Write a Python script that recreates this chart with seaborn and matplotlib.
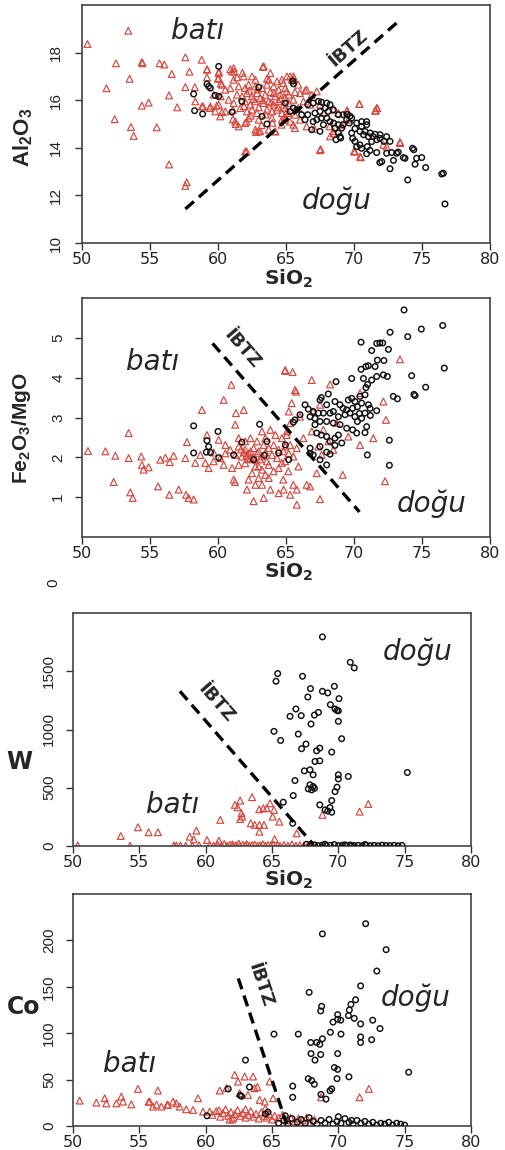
import numpy as np
import pandas as pd
import matplotlib
matplotlib.use("Agg")
import matplotlib.pyplot as plt
import seaborn as sns

sns.set_theme(style="white")
plt.rcParams["font.family"] = ["DejaVu Sans"]
plt.rcParams["mathtext.fontset"] = "custom"
plt.rcParams["mathtext.rm"] = "Liberation Sans"
plt.rcParams["mathtext.bf"] = "Liberation Sans:bold"

# ---------------------------------------------------------------- data
# (SiO2, value) pairs; "bati" = western samples, "dogu" = eastern samples

al_bati = [
    (50.4, 18.36), (53.4, 18.92), (52.5, 17.55), (54.4, 17.6), (54.45, 17.55), (55.7, 17.55),
    (56.05, 17.5), (57.6, 17.8), (58.8, 17.7), (53.5, 16.9), (51.8, 16.5), (56.6, 17.1),
    (57.9, 17.2), (59.2, 17.3), (56.4, 16.2), (57.6, 16.55), (58.3, 16.55), (54.4, 15.77),
    (54.9, 15.9), (57.0, 15.7), (52.4, 15.2), (53.6, 14.87), (53.8, 14.5), (55.5, 14.86),
    (56.4, 13.3), (57.7, 12.55), (57.6, 12.4), (58.9, 15.74), (59.4, 15.67), (59.9, 15.77),
    (60.2, 16.16), (60.0, 16.9), (60.07, 17.2), (60.9, 17.3), (61.2, 17.2), (61.8, 17.15),
    (60.2, 16.7), (60.3, 15.5), (61.1, 15.6), (61.1, 15.2), (61.3, 15.0), (62.1, 15.1),
    (62.1, 13.85), (63.3, 17.4), (63.6, 16.9), (65.3, 17.0), (65.6, 16.9), (66.4, 16.4),
    (67.5, 13.9), (62.8, 14.66), (63.1, 14.7), (64.2, 14.69), (65.66, 14.83), (69.5, 15.57),
    (70.4, 15.84), (71.7, 15.67), (71.6, 15.56), (70.0, 13.85), (70.5, 13.6), (73.4, 14.2),
    (72.4, 14.05), (68.5, 14.6), (68.2, 14.9),
    (61.15, 17.35), (61.03, 17.21), (60.05, 17.14), (59.19, 17.28), (59.19, 16.96), (60.05, 16.93),
    (60.29, 16.65), (61.15, 16.86), (61.4, 16.96), (61.89, 17.0), (62.5, 17.0), (62.75, 16.86),
    (63.36, 17.42), (63.85, 17.14), (63.73, 16.86), (64.34, 16.79), (64.7, 16.86), (65.07, 17.0),
    (60.54, 16.44), (60.9, 16.51), (61.52, 16.58), (62.0, 16.51), (62.25, 16.65), (62.75, 16.58),
    (63.24, 16.51), (63.6, 16.65), (64.09, 16.58), (64.46, 16.44), (64.95, 16.51), (61.4, 16.23),
    (61.76, 16.16), (62.13, 16.3), (62.5, 16.16), (62.87, 16.3), (63.11, 16.09), (63.48, 16.23),
    (63.85, 16.34), (64.22, 16.16), (64.58, 16.23), (65.2, 16.23), (60.78, 16.02), (61.15, 15.88),
    (62.0, 15.95), (62.38, 15.81), (62.75, 15.95), (63.36, 15.88), (63.73, 15.95), (64.09, 15.81),
    (64.46, 15.95), (64.83, 15.81), (65.2, 15.88), (60.54, 15.53), (61.64, 15.67), (62.13, 15.53),
    (62.5, 15.6), (62.87, 15.46), (63.6, 15.6), (63.97, 15.53), (64.34, 15.6), (64.7, 15.46),
    (65.07, 15.53), (62.25, 15.25), (62.99, 15.18), (63.97, 15.25), (64.7, 15.18), (61.27, 15.11),
    (62.0, 15.04), (62.75, 14.76), (62.99, 14.69), (63.73, 14.76), (64.22, 14.69), (62.0, 13.84),
    (59.68, 16.23), (60.05, 15.81), (59.44, 15.74), (58.82, 15.74), (58.33, 15.95), (59.8, 15.53),
    (60.17, 15.32), (61.52, 14.9), (62.3, 16.4), (62.6, 16.05), (63.0, 15.7), (63.3, 16.0),
    (63.5, 15.4), (63.9, 15.9), (64.1, 16.3), (64.4, 15.7), (64.6, 16.05), (62.9, 16.45),
    (61.9, 15.75), (62.4, 15.35), (63.2, 14.95), (64.0, 15.05), (64.9, 15.3), (65.3, 15.1),
    (65.54, 17.0), (65.42, 16.86), (64.8, 16.72), (65.9, 16.65), (65.05, 16.37), (65.66, 16.34),
    (66.03, 16.3), (66.52, 16.44), (67.26, 16.37), (66.89, 16.23), (64.93, 16.09), (65.54, 16.02),
    (66.28, 15.95), (66.77, 15.81), (67.5, 15.81), (64.93, 15.67), (65.9, 15.67), (65.17, 15.46),
    (65.66, 15.39), (66.03, 15.18), (64.93, 15.18), (65.54, 14.97), (64.68, 14.97), (66.52, 14.9),
    (67.1, 14.8), (67.75, 15.46), (68.48, 15.6), (68.85, 15.46), (69.46, 15.53), (69.58, 15.18),
    (69.1, 14.97), (68.48, 14.69), (68.24, 14.48), (70.39, 15.84), (71.67, 15.67), (71.55, 15.56),
    (67.55, 13.94), (70.07, 13.84), (70.44, 13.63), (72.16, 14.13), (73.38, 14.24),
]

al_dogu = [
    (60.05, 17.42), (59.19, 16.68), (59.31, 16.58), (59.44, 16.51), (58.21, 16.26), (58.28, 15.56),
    (58.87, 15.42), (59.8, 16.2), (60.05, 16.16), (61.03, 15.5), (61.76, 15.95), (63.24, 15.32),
    (63.6, 15.0), (62.99, 16.54), (64.95, 15.88), (65.54, 16.69), (65.5, 16.8), (76.69, 11.64),
    (76.57, 12.93), (76.45, 12.9), (73.95, 12.65), (72.65, 13.12), (75.27, 13.17), (74.49, 13.31),
    (74.98, 13.59), (74.6, 13.56), (74.3, 13.98), (74.4, 13.92), (73.75, 13.56), (73.63, 13.59),
    (73.14, 13.77), (72.9, 13.47), (72.04, 13.42), (71.9, 13.38), (72.4, 13.77), (72.77, 13.8),
    (73.25, 13.82), (71.67, 13.8), (70.93, 13.75), (71.18, 13.89), (70.98, 14.05), (71.3, 14.26),
    (71.9, 14.4), (72.4, 14.47), (72.65, 14.27), (72.2, 14.27), (71.67, 14.34), (71.4, 14.47),
    (71.06, 14.47), (70.7, 14.55), (70.44, 14.69), (70.81, 14.69), (71.18, 14.62), (71.55, 14.57),
    (71.92, 14.55), (70.56, 14.9), (70.93, 14.97), (70.93, 15.1), (70.56, 15.1), (70.2, 15.04),
    (70.07, 14.8), (69.83, 14.62), (69.9, 14.4), (70.07, 14.27), (70.2, 14.05), (70.44, 14.12),
    (70.56, 13.98), (69.66, 15.04), (69.83, 15.25), (69.46, 15.18), (69.2, 14.97), (68.85, 14.97),
    (69.1, 14.83), (68.97, 14.47), (68.85, 14.62), (68.6, 14.83), (68.5, 15.04), (68.24, 15.1),
    (68.0, 15.25), (67.6, 15.25), (67.26, 15.18), (67.75, 14.97), (67.5, 14.69), (66.89, 14.76),
    (67.0, 15.1), (66.6, 15.39), (66.6, 15.81), (67.0, 15.88), (67.38, 15.95), (67.6, 15.92),
    (68.0, 15.88), (68.24, 15.81), (67.87, 15.67), (67.5, 15.53), (67.13, 15.46), (68.11, 15.53),
    (68.48, 15.6), (68.85, 15.39), (69.2, 15.39), (69.5, 15.4), (69.7, 15.33), (65.79, 15.6),
    (65.54, 15.67), (65.3, 15.53), (66.15, 15.39), (66.4, 15.18), (68.68, 14.34), (69.02, 14.41),
]

fe_bati = [
    (50.44, 2.16), (51.72, 2.15), (52.45, 2.04), (53.43, 2.61), (53.43, 1.98), (54.36, 2.02),
    (54.41, 1.81), (54.53, 1.69), (54.9, 1.75), (52.33, 1.38), (53.55, 1.12), (53.73, 0.98),
    (55.59, 1.27), (55.76, 1.94), (56.13, 1.99), (56.45, 1.88), (56.74, 2.04), (56.42, 1.06),
    (57.11, 1.19), (57.72, 2.38), (57.6, 1.98), (57.65, 1.06), (57.84, 0.98), (58.21, 0.94),
    (58.33, 1.86), (58.82, 3.19), (59.19, 2.56), (59.07, 1.86), (59.31, 1.73), (59.68, 2.12),
    (60.05, 2.44), (60.42, 3.44), (60.98, 3.82), (61.32, 3.11), (61.89, 3.19), (61.27, 2.82),
    (61.15, 1.44), (61.25, 1.38), (62.13, 1.19), (62.62, 0.9), (63.36, 0.98), (62.99, 1.77),
    (63.73, 1.48), (63.85, 1.19), (64.46, 1.1), (64.83, 1.19), (64.95, 4.19), (65.32, 2.86),
    (65.2, 3.15),
    (60.54, 2.31), (60.9, 2.19), (61.52, 2.27), (62.0, 2.19), (62.25, 2.1), (62.62, 2.23),
    (62.99, 2.15), (63.36, 2.31), (63.73, 2.23), (64.09, 2.31), (64.46, 2.19), (64.95, 2.27),
    (65.2, 2.1), (61.76, 2.02), (62.38, 1.98), (62.75, 1.94), (63.24, 2.02), (63.6, 1.9),
    (63.97, 2.06), (64.34, 1.98), (64.7, 1.86), (62.0, 1.85), (62.75, 1.77), (63.24, 1.69),
    (63.73, 1.81), (64.09, 1.65), (64.46, 1.73), (62.5, 1.6), (62.99, 1.48), (63.48, 1.56),
    (62.75, 1.31), (62.25, 1.44), (63.24, 1.31), (62.38, 2.48), (62.87, 2.4), (63.48, 2.48),
    (64.22, 2.56), (64.7, 2.48), (61.52, 2.48), (62.0, 2.4), (63.24, 2.65), (63.85, 2.69),
    (65.07, 2.65), (61.27, 2.06), (61.52, 1.81), (61.03, 1.73), (60.54, 2.1), (60.17, 1.98),
    (60.42, 1.81), (59.68, 1.9), (58.7, 2.06), (62.1, 2.05), (62.4, 2.15), (62.6, 2.0),
    (61.9, 2.12), (62.9, 2.1), (63.1, 1.95), (63.5, 2.12), (62.2, 1.95), (61.7, 2.2),
    (64.93, 4.17), (65.49, 4.14), (66.89, 3.94), (65.66, 3.69), (65.74, 3.65), (65.42, 3.36),
    (68.24, 3.83), (67.5, 3.32), (73.38, 4.46), (70.44, 3.61), (72.16, 3.4), (72.35, 2.94),
    (66.03, 3.02), (66.89, 2.65), (66.28, 2.48), (65.05, 2.56), (65.3, 2.31), (65.79, 2.23),
    (64.8, 2.15), (65.54, 2.02), (64.93, 1.9), (65.91, 1.77), (65.17, 1.65), (64.8, 1.44),
    (65.54, 1.31), (66.52, 1.31), (66.77, 1.27), (65.79, 1.19), (65.3, 1.06), (65.79, 0.81),
    (67.5, 0.95), (67.26, 1.6), (69.17, 1.56), (67.62, 2.06), (67.38, 2.27), (68.48, 2.19),
    (70.44, 2.31), (71.42, 2.48), (69.58, 2.52), (72.28, 1.4), (67.0, 3.15), (67.75, 2.69),
    (68.73, 2.86), (68.11, 2.4),
]

fe_dogu = [
    (58.21, 2.79), (59.19, 2.42), (59.31, 2.27), (60.0, 2.65), (59.14, 2.13), (58.21, 2.11),
    (59.45, 2.12), (60.05, 1.99), (61.76, 2.38), (63.06, 2.83), (63.6, 2.4), (64.46, 2.11),
    (64.95, 2.31), (61.15, 2.06), (62.62, 1.94), (63.4, 2.05), (65.2, 1.94),
    (73.68, 5.70), (76.52, 5.31), (74.95, 5.22), (73.95, 5.03), (72.65, 5.14), (70.52, 4.89),
    (71.3, 4.68), (71.67, 4.86), (71.9, 4.87), (72.11, 4.87), (72.53, 4.71), (71.72, 4.44),
    (72.2, 4.43), (76.64, 4.24), (70.52, 4.21), (70.88, 4.28), (71.06, 4.3), (71.55, 4.28),
    (69.83, 3.98), (68.68, 3.9), (70.69, 3.98), (71.0, 3.83), (71.3, 3.94), (71.67, 4.03),
    (72.16, 4.07), (72.45, 4.03), (74.24, 4.05), (75.27, 3.76), (74.41, 3.58), (74.49, 3.55),
    (72.89, 3.53), (73.19, 3.47), (70.88, 3.75), (70.81, 3.57), (70.44, 3.53), (69.83, 3.48),
    (69.58, 3.44), (70.07, 3.4), (70.56, 3.36), (71.06, 3.32), (71.18, 3.23), (71.67, 3.17),
    (70.25, 3.27), (69.9, 3.23), (69.46, 3.19), (69.2, 3.23), (68.97, 3.32), (68.6, 3.4),
    (68.11, 3.59), (67.6, 3.5), (67.5, 3.44), (67.99, 3.32), (66.4, 3.32), (66.64, 3.21),
    (67.0, 3.15), (67.38, 3.11), (67.75, 3.11), (68.24, 3.11), (68.48, 3.15), (68.85, 3.02),
    (69.34, 3.07), (69.7, 3.11), (70.07, 3.02), (70.56, 2.98), (70.81, 3.11), (70.93, 2.77),
    (70.81, 2.62), (70.2, 2.61), (69.9, 2.69), (69.46, 2.73), (68.97, 2.82), (68.48, 2.86),
    (67.99, 2.9), (67.5, 2.9), (67.13, 2.98), (66.77, 3.02), (66.03, 3.07), (65.66, 2.94),
    (65.54, 2.88), (67.13, 2.82), (67.26, 2.61), (67.6, 2.56), (67.99, 2.52), (68.6, 2.48),
    (68.85, 2.56), (68.24, 2.4), (69.1, 2.36), (68.6, 2.3), (67.5, 2.27), (66.77, 2.23),
    (67.99, 2.13), (68.24, 2.08), (67.0, 2.06), (67.5, 1.94), (67.99, 1.81), (66.77, 2.1),
    (70.98, 2.06), (72.6, 1.8), (72.6, 2.43), (70.25, 2.9), (70.4, 3.1), (71.2, 3.05),
]

w_bati = [
    (50.35, 5), (53.6, 86), (54.3, 3), (54.9, 161), (55.7, 118), (56.4, 118), (57.6, 5),
    (58.1, 5), (58.8, 80), (59.1, 57), (59.3, 132), (60.1, 52), (61.0, 46), (61.1, 224),
    (62.2, 353), (62.6, 390), (62.4, 333), (62.7, 281), (62.76, 252), (62.6, 232), (63.5, 419),
    (63.4, 195), (63.7, 181), (64.05, 181), (64.4, 181), (64.05, 123), (64.04, 315), (64.35, 324),
    (64.6, 324), (64.85, 367), (65.15, 310), (65.05, 252), (65.55, 209), (65.2, 60), (66.86, 109),
    (68.8, 267), (71.6, 295), (72.26, 361),
    (60.3, 8), (60.6, 3), (60.9, 12), (61.2, 5), (61.4, 18), (61.6, 2), (61.8, 9), (62.0, 14),
    (62.1, 4), (62.3, 7), (62.5, 20), (62.6, 2), (62.8, 10), (63.0, 5), (63.1, 16), (63.3, 3),
    (63.5, 8), (63.7, 12), (63.9, 2), (64.1, 6), (64.3, 15), (64.5, 4), (64.7, 9), (64.9, 3),
    (65.1, 12), (65.4, 6), (65.6, 2), (65.9, 8), (66.2, 4), (66.5, 14), (66.8, 3), (67.1, 7),
    (67.4, 2), (67.7, 5), (68.0, 10), (68.3, 3), (57.8, 4), (58.5, 2), (59.5, 6), (59.0, 3),
]

w_dogu = [
    (68.8, 1795), (70.9, 1577), (71.2, 1529), (65.43, 1480), (65.3, 1414), (67.3, 1457),
    (67.9, 1351), (67.7, 1279), (68.8, 1328), (69.2, 1314), (69.7, 1371), (70.05, 1265),
    (69.4, 1213), (69.75, 1176), (69.9, 1164), (70.0, 1160), (68.5, 1147), (68.2, 1124),
    (66.36, 1113), (67.2, 1119), (66.8, 1176), (67.94, 1047), (70.0, 1070), (65.15, 984),
    (65.65, 906), (66.98, 961), (70.25, 921), (67.56, 875), (67.23, 835), (68.6, 840),
    (68.36, 817), (69.5, 806), (68.24, 726), (68.6, 731), (66.73, 562), (67.44, 645),
    (67.86, 654), (68.1, 611), (67.86, 525), (68.1, 511), (67.74, 490), (67.99, 482),
    (68.2, 495), (66.6, 433), (65.85, 376), (70.0, 611), (70.0, 576), (70.75, 597),
    (69.9, 505), (69.75, 467), (69.5, 390), (68.6, 353), (69.0, 310), (69.37, 330),
    (69.5, 290), (69.2, 300), (66.56, 195), (75.2, 631),
    (67.6, 15), (67.9, 5), (68.2, 10), (68.5, 3), (68.8, 8), (69.1, 2), (69.4, 6), (69.7, 12),
    (70.0, 3), (70.3, 7), (70.6, 2), (70.9, 9), (71.2, 4), (71.5, 6), (71.8, 2), (72.1, 8),
    (72.4, 3), (72.7, 5), (73.0, 2), (73.3, 7), (73.6, 4), (73.9, 3), (74.2, 6), (74.5, 2),
    (74.8, 5), (69.0, 15), (70.5, 10), (71.0, 1), (72.0, 12),
]

co_bati = [
    (50.5, 27.4), (51.76, 25.2), (52.39, 29.9), (52.51, 24.4), (53.27, 24.4), (53.64, 31.6),
    (53.77, 26.3), (54.4, 23.3), (54.9, 40.0), (55.78, 26.3), (56.4, 38.2), (56.03, 20.9),
    (56.66, 20.9), (57.16, 22.7), (57.54, 26.3), (57.79, 24.4), (58.04, 20.9), (58.54, 18.0),
    (59.05, 17.3), (59.42, 29.9), (59.8, 15.5), (60.3, 15.5), (61.06, 38.2), (61.56, 40.7),
    (62.19, 55.1), (62.44, 47.9), (62.94, 53.3), (63.57, 53.3), (62.56, 35.3), (63.19, 33.5),
    (63.69, 40.7), (63.9, 42.0), (64.07, 28.1), (64.45, 26.3), (64.82, 47.9), (65.08, 29.9),
    (72.3, 40.0), (71.6, 31.0), (68.7, 31.0), (56.3, 23.0), (57.1, 23.0), (55.7, 26.0),
    (60.5, 12), (60.8, 16), (61.1, 10), (61.3, 14), (61.5, 18), (61.7, 11), (61.9, 15), (62.1, 9),
    (62.2, 13), (62.4, 17), (62.6, 11), (62.8, 14), (63.0, 9), (63.2, 12), (63.4, 16), (63.6, 10),
    (63.8, 13), (64.0, 8), (64.2, 15), (64.4, 11), (64.6, 9), (64.8, 13), (65.0, 7), (65.2, 11),
    (65.5, 9), (65.8, 12), (66.1, 6), (66.4, 9), (66.7, 5), (67.0, 8), (67.3, 6), (67.6, 9),
    (67.9, 4), (68.2, 7), (63.0, 18), (64.5, 19), (62.0, 7), (61.0, 17), (61.8, 7),
]

co_dogu = [
    (68.8, 207), (72.06, 218), (73.6, 190), (72.9, 167), (71.68, 151), (67.8, 144), (71.3, 136),
    (70.95, 131), (68.74, 129), (68.67, 124), (70.83, 125), (69.95, 120), (70.76, 119),
    (71.2, 116), (69.6, 112), (70.18, 114), (69.95, 115), (72.59, 114), (73.14, 105),
    (71.68, 110), (69.4, 101), (70.2, 99), (65.15, 99), (66.98, 99), (71.68, 96), (71.68, 90),
    (72.51, 93), (67.92, 90), (68.37, 90), (68.6, 88), (68.8, 94), (67.94, 78), (68.67, 77),
    (68.24, 71), (69.95, 78), (69.7, 63), (69.95, 61), (69.9, 51), (70.8, 53), (67.73, 51),
    (67.99, 49), (68.19, 45), (66.56, 43), (66.56, 31), (68.69, 34), (69.07, 29), (69.5, 40),
    (69.37, 38), (75.3, 58), (63.0, 71), (63.3, 42), (61.7, 40), (62.7, 32), (60.1, 11),
    (64.7, 15), (62.6, 33),
    (65.5, 3), (65.9, 6), (66.2, 2), (66.5, 8), (66.9, 4), (67.2, 7), (67.5, 3), (67.8, 9),
    (68.1, 5), (68.4, 2), (68.7, 6), (69.0, 3), (69.3, 7), (69.6, 2), (69.9, 5), (70.2, 3),
    (70.5, 8), (70.8, 4), (71.1, 2), (71.4, 6), (71.7, 3), (72.0, 5), (72.3, 2), (72.6, 4),
    (72.9, 1), (73.2, 3), (73.5, 2), (73.8, 4), (74.1, 1), (74.4, 3), (74.7, 2), (75.0, 1),
    (70.0, 10), (71.0, 6), (66.0, 11), (64.5, 13),
]

# IBTZ boundary lines: two end points (SiO2, value)
al_ibtz = [(57.6, 11.43), (73.2, 19.28)]
fe_ibtz = [(59.6, 4.86), (70.4, 0.63)]
w_ibtz = [(58.06, 1328), (68.1, 15)]
co_ibtz = [(62.46, 159), (66.1, 2)]

x_ticks = [50, 55, 60, 65, 70, 75, 80]
al_ticks = [10, 12, 14, 16, 18]
fe_ticks = [1, 2, 3, 4, 5]
w_ticks = [0, 500, 1000, 1500]
co_ticks = [0, 50, 100, 150, 200]

# ---------------------------------------------------------------- style
RED = "#d8463b"
BLACK = "#111111"
FIG_W, FIG_H = 506, 1150

fig = plt.figure(figsize=(FIG_W / 100, FIG_H / 100), dpi=100)


def px_axes(left, top, right, bottom):
    return fig.add_axes([left / FIG_W, 1 - bottom / FIG_H,
                         (right - left) / FIG_W, (bottom - top) / FIG_H])


def draw_panel(ax, bati, dogu, ibtz, ylim, yticks, ytick_pad,
               ibtz_xy, bati_xy, dogu_xy):
    db = pd.DataFrame(bati, columns=["SiO2", "val"])
    dd = pd.DataFrame(dogu, columns=["SiO2", "val"])
    sns.scatterplot(data=db, x="SiO2", y="val", marker="^", s=24,
                    facecolor="none", edgecolor=RED, linewidth=0.85, ax=ax,
                    zorder=2)
    sns.scatterplot(data=dd, x="SiO2", y="val", marker="o", s=16,
                    facecolor="none", edgecolor=BLACK, linewidth=1.05, ax=ax,
                    zorder=3)
    ax.set_xlim(50, 80)
    ax.set_ylim(*ylim)
    ax.set_xlabel("")
    ax.set_ylabel("")

    lx, ly = zip(*ibtz)
    ax.plot(lx, ly, color="black", lw=2.4, linestyle=(0, (3.4, 2.0)),
            dash_capstyle="butt", zorder=4)

    # boundary label parallel to the line
    p0 = ax.transData.transform(ibtz[0])
    p1 = ax.transData.transform(ibtz[1])
    ang = np.degrees(np.arctan2(p1[1] - p0[1], p1[0] - p0[0]))
    if ang > 90:
        ang -= 180
    if ang < -90:
        ang += 180
    ax.text(*ibtz_xy, "İBTZ", rotation=ang, rotation_mode="anchor",
            ha="center", va="center", fontsize=13, fontweight="bold",
            family="DejaVu Sans", zorder=5)
    ax.text(*bati_xy, "batı", ha="center", va="baseline", fontsize=20,
            style="italic", family="DejaVu Sans", zorder=5)
    ax.text(*dogu_xy, "doğu", ha="center", va="baseline", fontsize=20,
            style="italic", family="DejaVu Sans", zorder=5)

    ax.set_xticks(x_ticks)
    ax.set_xticklabels([str(t) for t in x_ticks], fontsize=11.5,
                       family="DejaVu Sans", color="#222222")
    ax.set_yticks(yticks)
    ax.set_yticklabels([str(t) for t in yticks], rotation=90, va="center",
                       fontsize=11, family="Liberation Sans", color="#222222")
    ax.tick_params(axis="both", direction="out", length=5, width=1.0,
                   color="#333333", left=True, bottom=True)
    ax.tick_params(axis="x", pad=1.5)
    ax.tick_params(axis="y", pad=ytick_pad)
    for sp in ax.spines.values():
        sp.set_visible(True)
        sp.set_color("#444444")
        sp.set_linewidth(1.2)
    ax.set_facecolor("white")


ax1 = px_axes(82, 5, 490, 243)
draw_panel(ax1, al_bati, al_dogu, al_ibtz, (10, 20), al_ticks, 9,
           (69.6, 18.2), (58.5, 18.57), (68.7, 11.43))

ax2 = px_axes(82, 298, 490, 537)
draw_panel(ax2, fe_bati, fe_dogu, fe_ibtz, (0, 6), fe_ticks, 7,
           (61.8, 4.72), (55.2, 4.19), (75.7, 0.64))

ax3 = px_axes(73, 613, 471, 846)
draw_panel(ax3, w_bati, w_dogu, w_ibtz, (0, 2000), w_ticks, 7,
           (60.8, 1228), (57.5, 281), (76.0, 1595))

ax4 = px_axes(73, 894, 471, 1126)
draw_panel(ax4, co_bati, co_dogu, co_ibtz, (0, 250), co_ticks, 7,
           (64.1, 152), (54.3, 58), (75.8, 129))


def fig_text(xp, yp, s, **kw):
    fig.text(xp / FIG_W, 1 - yp / FIG_H, s, **kw)


# axis titles
sio2 = r"$\mathbf{SiO_2}$"
for yp in (279, 572, 880):
    fig_text(289, yp, sio2, ha="center", va="center", fontsize=14.5,
             math_fontfamily="dejavusans")

fig_text(23, 137, r"$\mathbf{Al_2O_3}$", rotation=90, ha="center",
         va="center", fontsize=16)
fig_text(22, 428, r"$\mathbf{Fe_2O_3/MgO}$", rotation=90, ha="center",
         va="center", fontsize=15)
fig_text(19, 762, "W", ha="center", va="center", fontsize=17,
         fontweight="bold", family="DejaVu Sans")
fig_text(24, 1007, "Co", ha="center", va="center", fontsize=17,
         fontweight="bold", family="DejaVu Sans")
fig_text(53, 583, "0", rotation=90, ha="center", va="center", fontsize=11,
         family="Liberation Sans", color="#222222")

fig.savefig("out.png", dpi=100, facecolor="white")
